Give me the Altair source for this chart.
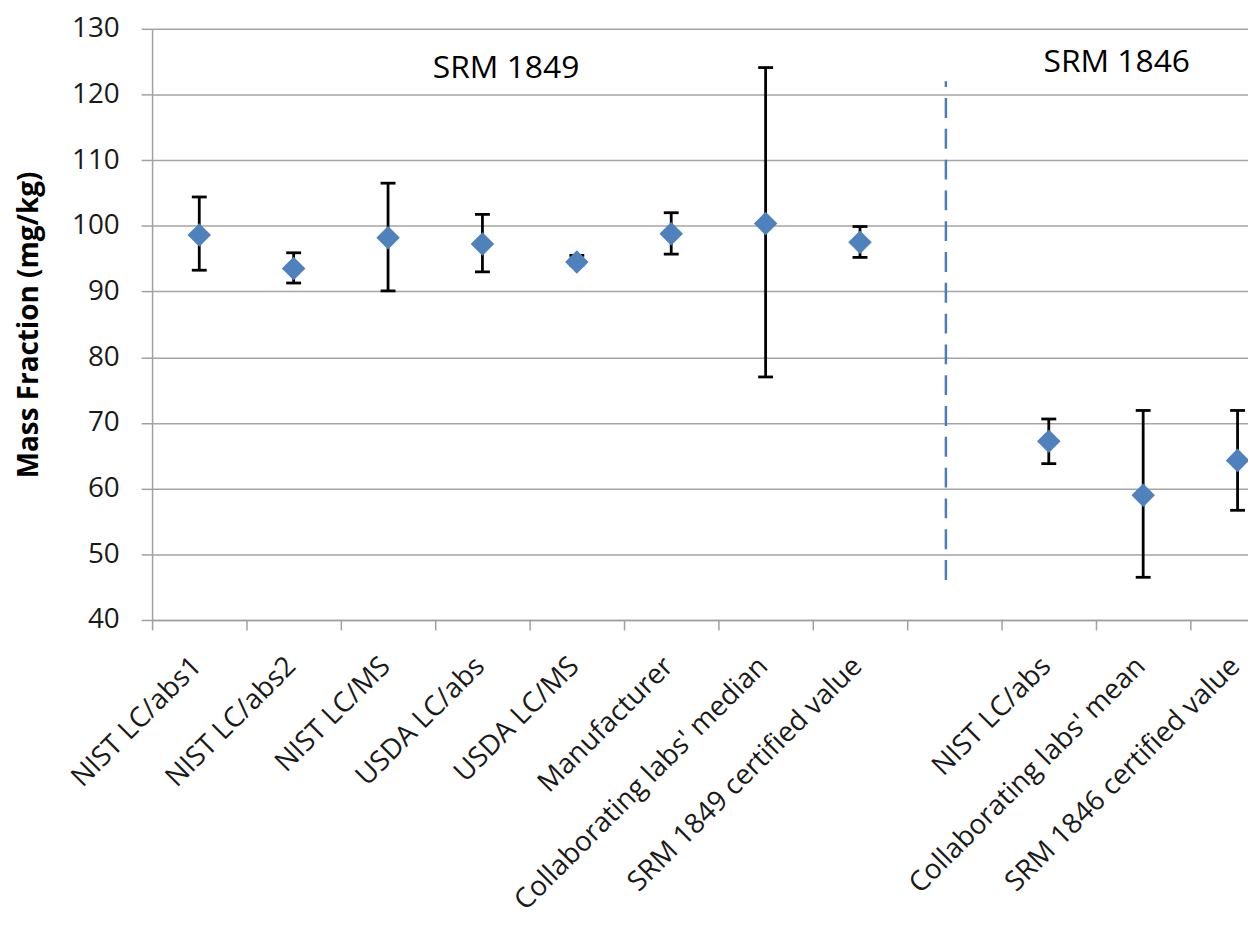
import json
import altair as alt
import pandas as pd

# ---- data ----
categories = [
    "NIST LC/abs1", "NIST LC/abs2", "NIST LC/MS", "USDA LC/abs", "USDA LC/MS",
    "Manufacturer", "Collaborating labs' median", "SRM 1849 certified value",
    "", "NIST LC/abs", "Collaborating labs' mean", "SRM 1846 certified value",
]
values = [98.6, 93.5, 98.2, 97.25, 94.5, 98.8, 100.35, 97.5, None, 67.2, 59.0, 64.3]
lows = [93.25, 91.3, 90.1, 93.0, 94.0, 95.7, 77.0, 95.2, None, 63.8, 46.5, 56.7]
highs = [104.4, 95.9, 106.5, 101.75, 95.5, 102.0, 124.1, 99.9, None, 70.6, 71.9, 71.9]

group_labels = ["SRM 1849", "SRM 1846"]
group_label_x = [3.75, 10.22]
group_label_y = [123.95, 124.9]

divider_x = [8.41]
divider_y = [46.1]
divider_y2 = [122.0]

y_ticks = list(range(40, 131, 10))

# ---- tables ----
rows = []
caps = []
for i, (c, v, lo, hi) in enumerate(zip(categories, values, lows, highs)):
    if v is None:
        continue
    rows.append({"x": i + 0.5, "cat": c, "value": v, "low": lo, "high": hi})
    caps.append({"x": i + 0.5, "value": lo})
    caps.append({"x": i + 0.5, "value": hi})
df = pd.DataFrame(rows)
caps_df = pd.DataFrame(caps)
groups_df = pd.DataFrame({"x": group_label_x, "value": group_label_y, "t": group_labels})
div_df = pd.DataFrame({"x": divider_x, "value": divider_y, "y2": divider_y2})

W, H = 1103, 595
x_scale = alt.Scale(domain=[0, W / 95.0], nice=False, zero=False)
y_scale = alt.Scale(domain=[40, 130], nice=False, zero=False)

label_expr = json.dumps(categories) + "[round(datum.value)]"

x_axis = alt.Axis(
    values=list(range(len(categories))),
    labelExpr=label_expr,
    labelOffset=45,
    labelAngle=-45,
    labelAlign="right",
    labelBaseline="middle",
    labelPadding=32,
    labelFont="Open Sans",
    labelFontSize=28,
    labelColor="#1a1a1a",
    labelOverlap=False,
    labelFlush=False,
    labelLimit=0,
    tickSize=10,
    tickColor="#a0a0a0",
    tickWidth=1.5,
    domainColor="#a0a0a0",
    domainWidth=1.5,
    grid=False,
    title=None,
)
y_axis = alt.Axis(
    values=y_ticks,
    grid=True,
    gridColor="#a5a5a5",
    gridWidth=1.5,
    tickSize=11,
    tickColor="#a0a0a0",
    tickWidth=1.5,
    domainColor="#a0a0a0",
    domainWidth=1.5,
    labelPadding=22,
    labelFont="Open Sans",
    labelFontSize=28,
    labelColor="#1a1a1a",
    title="Mass Fraction (mg/kg)",
    titleFont="Open Sans",
    titleFontSize=28,
    titleFontWeight="bold",
    titleColor="#000000",
    titleX=-123,
    titleY=H / 2,
    titleBaseline="middle",
)

X = alt.X("x:Q", scale=x_scale, axis=x_axis)
Y = alt.Y("value:Q", scale=y_scale, axis=y_axis)

divider = alt.Chart(div_df).mark_rule(
    color="#4a7ebb", strokeWidth=2.5, strokeDash=[20, 11]
).encode(x=X, y=Y, y2="y2:Q")

bars = alt.Chart(df).mark_rule(color="#000000", strokeWidth=2.8).encode(
    x=X,
    y=alt.Y("low:Q", scale=y_scale, axis=y_axis),
    y2="high:Q",
)
cap_marks = alt.Chart(caps_df).mark_tick(
    color="#000000", orient="horizontal", size=15, thickness=2.8, opacity=1
).encode(x=X, y=Y)

points = alt.Chart(df).mark_point(
    shape="diamond", filled=True, size=560, color="#4f81bd", opacity=1
).encode(x=X, y=Y)

group_text = alt.Chart(groups_df).mark_text(
    font="Open Sans", fontSize=32, color="#000000"
).encode(x=X, y=Y, text="t:N")

chart = alt.layer(divider, bars, cap_marks, points, group_text).properties(
    width=W,
    height=H,
    padding={"left": 145, "top": 18, "right": 0, "bottom": 300},
    autosize=alt.AutoSizeParams(type="none"),
    background="white",
).configure_view(strokeWidth=0)

chart.save("out.html", embed_options={"renderer": "svg", "actions": False})
